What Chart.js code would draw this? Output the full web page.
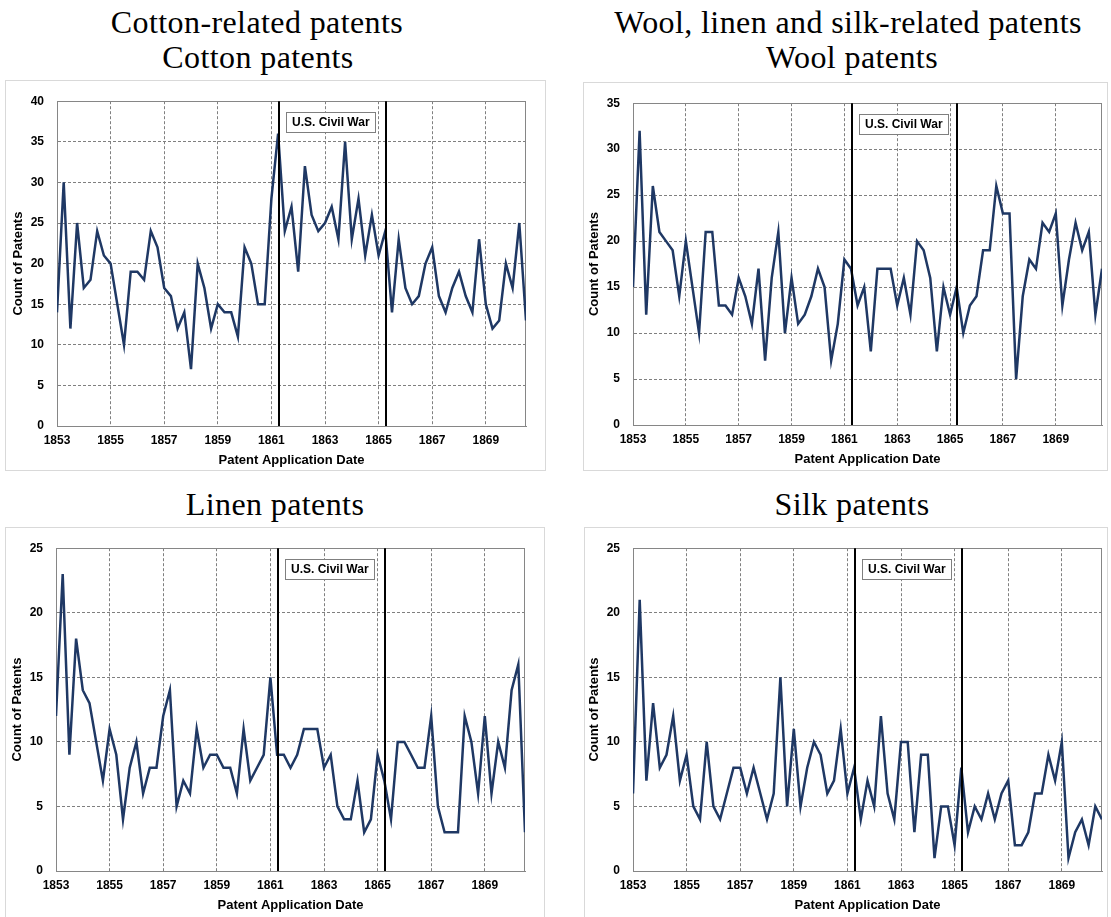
<!DOCTYPE html>
<html>
<head>
<meta charset="utf-8">
<script src="https://cdn.jsdelivr.net/npm/chart.js@4.4.1/dist/chart.umd.min.js"></script>
<style>
  html, body { margin: 0; padding: 0; background: #fff; overflow: hidden; }
  body { width: 1111px; height: 917px; position: relative; }
  .title { position: absolute; font-family: "Liberation Serif", serif; font-size: 32px; line-height: 36px;
           color: #000; white-space: nowrap; transform: translateX(-50%); letter-spacing: 0.4px; }
  .frame { position: absolute; border: 1px solid #d9d9d9; box-sizing: border-box; background: #fff; }
  .frame canvas { display: block; }
</style>
</head>
<body>
<div class="title" style="left:257px;top:4px">Cotton-related patents</div>
<div class="title" style="left:258px;top:39px">Cotton patents</div>
<div class="title" style="left:848px;top:4px">Wool, linen and silk-related patents</div>
<div class="title" style="left:852px;top:39px">Wool patents</div>
<div class="title" style="left:275px;top:486px">Linen patents</div>
<div class="title" style="left:852px;top:486px">Silk patents</div>

<script>
// quarterly patent counts, first quarter of 1853 onwards
const cottonCounts = [14, 30, 12, 25, 17, 18, 24, 21, 20, 15, 10, 19, 19, 18, 24, 22, 17, 16, 12, 14,
  7, 20, 17, 12, 15, 14, 14, 11, 22, 20, 15, 15, 28, 36, 24, 27, 19, 32, 26, 24,
  25, 27, 23, 35, 23, 28, 21, 26, 21, 24, 14, 23, 17, 15, 16, 20, 22, 16, 14, 17,
  19, 16, 14, 23, 15, 12, 13, 20, 17, 25, 13];
const woolCounts = [15, 32, 12, 26, 21, 20, 19, 14, 20, 15, 10, 21, 21, 13, 13, 12, 16, 14, 11, 17,
  7, 16, 21, 10, 16, 11, 12, 14, 17, 15, 7, 11, 18, 17, 13, 15, 8, 17, 17, 17,
  13, 16, 12, 20, 19, 16, 8, 15, 12, 15, 10, 13, 14, 19, 19, 26, 23, 23, 5, 14,
  18, 17, 22, 21, 23, 13, 18, 22, 19, 21, 12, 17];
const linenCounts = [12, 23, 9, 18, 14, 13, 10, 7, 11, 9, 4, 8, 10, 6, 8, 8, 12, 14, 5, 7,
  6, 11, 8, 9, 9, 8, 8, 6, 11, 7, 8, 9, 15, 9, 9, 8, 9, 11, 11, 11,
  8, 9, 5, 4, 4, 7, 3, 4, 9, 7, 4, 10, 10, 9, 8, 8, 12, 5, 3, 3,
  3, 12, 10, 6, 12, 6, 10, 8, 14, 16, 3];
const silkCounts = [6, 21, 7, 13, 8, 9, 12, 7, 9, 5, 4, 10, 5, 4, 6, 8, 8, 6, 8, 6,
  4, 6, 15, 5, 11, 5, 8, 10, 9, 6, 7, 11, 6, 8, 4, 7, 5, 12, 6, 4,
  10, 10, 3, 9, 9, 1, 5, 5, 2, 8, 3, 5, 4, 6, 4, 6, 7, 2, 2, 3,
  6, 6, 9, 7, 10, 1, 3, 4, 2, 5, 4];

// quarter dates (1853.00, 1853.25, ...)
const quarterDates = Array.from({ length: 72 }, (_, i) => 1853 + i / 4);
const yearTicks = [1853, 1855, 1857, 1859, 1861, 1863, 1865, 1867, 1869];
const warYears = [1861.27, 1865.27];
const warLabel = 'U.S. Civil War';

const lineColor = '#1f3864';
const gridColor = '#7f7f7f';
const axisColor = '#868686';
const sansFont = '"Liberation Sans", Arial, sans-serif';

// page geometry of every panel: outer frame and plot area
const panels = [
  { counts: cottonCounts, yMax: 40, frame: { x: 5, y: 80, w: 541, h: 391 }, plot: { l: 57, t: 90, r: 526, b: 426 }, yTitlePad: 5 },
  { counts: woolCounts, yMax: 35, frame: { x: 583, y: 82, w: 525, h: 389 }, plot: { l: 633, t: 89, r: 1102, b: 425 }, yTitlePad: 3 },
  { counts: linenCounts, yMax: 25, frame: { x: 5, y: 527, w: 540, h: 400 }, plot: { l: 56, t: 536, r: 525, b: 871 }, yTitlePad: 4 },
  { counts: silkCounts, yMax: 25, frame: { x: 584, y: 527, w: 524, h: 400 }, plot: { l: 633, t: 536, r: 1102, b: 871 }, yTitlePad: 2 }
];

const civilWarPlugin = {
  id: 'civilWar',
  beforeDatasetsDraw(chart) {
    // top and right border of the plot area
    const { ctx, chartArea: a } = chart;
    ctx.save();
    ctx.strokeStyle = axisColor;
    ctx.lineWidth = 1;
    ctx.beginPath();
    ctx.moveTo(a.left, Math.round(a.top) + 0.5);
    ctx.lineTo(Math.round(a.right) - 0.5, Math.round(a.top) + 0.5);
    ctx.lineTo(Math.round(a.right) - 0.5, a.bottom);
    ctx.stroke();
    ctx.restore();
  },
  afterDatasetsDraw(chart) {
    const { ctx, chartArea: a, scales: { x } } = chart;
    ctx.save();
    ctx.strokeStyle = '#000';
    ctx.lineWidth = 2;
    warYears.forEach(yr => {
      const px = Math.round(x.getPixelForValue(yr));
      ctx.beginPath();
      ctx.moveTo(px, a.top);
      ctx.lineTo(px, a.bottom);
      ctx.stroke();
    });

    // label box
    ctx.font = 'bold 12px ' + sansFont;
    const tw = ctx.measureText(warLabel).width;
    const bx = Math.round(x.getPixelForValue(warYears[0]) + 7);
    const by = Math.round(a.top + 11);
    const bw = Math.round(tw + 11), bh = 20;
    ctx.fillStyle = '#fff';
    ctx.fillRect(bx, by, bw, bh);
    ctx.strokeStyle = '#7f7f7f';
    ctx.lineWidth = 1;
    ctx.strokeRect(bx + 0.5, by + 0.5, bw, bh);
    ctx.fillStyle = '#000';
    ctx.textBaseline = 'middle';
    ctx.fillText(warLabel, bx + 6, by + bh / 2 + 1);
    ctx.restore();
  }
};

panels.forEach(p => {
  const frame = document.createElement('div');
  frame.className = 'frame';
  Object.assign(frame.style, {
    left: p.frame.x + 'px', top: p.frame.y + 'px',
    width: p.frame.w + 'px', height: p.frame.h + 'px'
  });
  const canvas = document.createElement('canvas');
  const cw = p.frame.w - 2, ch = p.frame.h - 2;
  canvas.width = cw;
  canvas.height = ch;
  frame.appendChild(canvas);
  document.body.appendChild(frame);

  const cx = p.frame.x + 1, cy = p.frame.y + 1;
  const padLeft = p.plot.l - cx;
  const padTop = p.plot.t - cy;
  const padRight = cx + cw - p.plot.r;
  const xAxisH = 44;
  const padBottom = cy + ch - p.plot.b - xAxisH;

  new Chart(canvas.getContext('2d'), {
    type: 'line',
    data: {
      datasets: [{
        data: p.counts.map((v, i) => ({ x: quarterDates[i], y: v })),
        borderColor: lineColor,
        borderWidth: 2.5,
        pointRadius: 0,
        fill: false,
        tension: 0
      }]
    },
    options: {
      responsive: false,
      animation: false,
      layout: { padding: { left: 0, top: padTop, right: padRight, bottom: padBottom } },
      plugins: { legend: { display: false }, tooltip: { enabled: false } },
      scales: {
        x: {
          type: 'linear',
          min: 1853,
          max: quarterDates[p.counts.length - 1],
          afterBuildTicks: s => { s.ticks = yearTicks.map(v => ({ value: v })); },
          afterFit: s => { s.height = xAxisH; },
          ticks: {
            callback: v => String(v),
            font: { family: sansFont, size: 12, weight: 'bold' },
            color: '#000',
            padding: 7,
            maxRotation: 0,
            autoSkip: false
          },
          grid: { color: gridColor, drawTicks: false, lineWidth: 1 },
          border: { color: axisColor, dash: [3, 2] },
          title: {
            display: true,
            text: 'Patent Application Date',
            color: '#000',
            font: { family: sansFont, size: 13, weight: 'bold' },
            padding: { top: 0, bottom: 2 }
          }
        },
        y: {
          min: 0,
          max: p.yMax,
          afterFit: s => { s.width = padLeft; },
          ticks: {
            stepSize: 5,
            font: { family: sansFont, size: 12, weight: 'bold' },
            color: '#000',
            padding: 13
          },
          grid: { color: gridColor, drawTicks: false, lineWidth: 1 },
          border: { color: axisColor, dash: [3, 2] },
          title: {
            display: true,
            text: 'Count of Patents',
            color: '#000',
            font: { family: sansFont, size: 13, weight: 'bold' },
            padding: { top: p.yTitlePad, bottom: 0 }
          }
        }
      }
    },
    plugins: [civilWarPlugin]
  });
});
</script>
</body>
</html>
